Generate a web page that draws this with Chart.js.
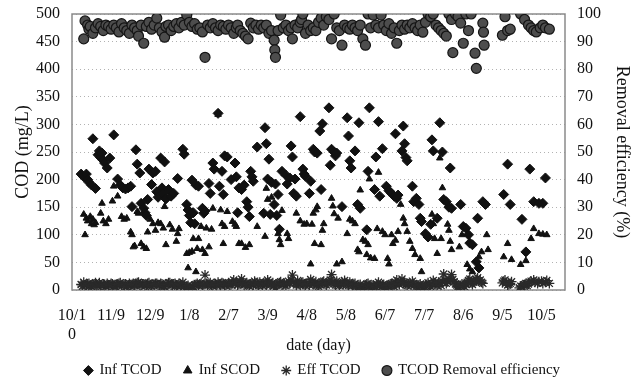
<!DOCTYPE html>
<html>
<head>
<meta charset="utf-8">
<script src="https://cdn.jsdelivr.net/npm/chart.js@4"></script>
<style>
    html, body { margin: 0; padding: 0; background: #ffffff; }
    #codChart { display: block; }
</style>
</head>
<body>
<canvas id="codChart" width="633" height="377"></canvas>
<script>
// Tick labels on the date axis (one every 30 days, starting 10/10)
const dateLabels = [['10/1', '0'], '11/9', '12/9', '1/8', '2/7', '3/9', '4/8', '5/8', '6/7', '7/7', '8/6', '9/5', '10/5'];

const seriesNames = ['Inf TCOD', 'Inf SCOD', 'Eff TCOD', 'TCOD Removal efficiency'];

// [day since 10/10, COD mg/L]
const infTCOD = [
    [7,210],[9,205],[11,210],[12,200],[13,195],[15,190],[16,274],[18,184],[20,245],[21,252],
    [22,240],[23,248],[24,235],[25,230],[27,221],[29,239],[32,281],[35,201],[37,190],[39,185],
    [41,183],[43,185],[45,188],[46,151],[49,254],[50,228],[52,212],[53,157],[55,148],[56,140],
    [57,135],[58,164],[59,219],[61,191],[62,212],[64,215],[65,178],[66,168],[68,239],[69,185],
    [70,175],[71,232],[72,165],[74,182],[76,170],[78,175],[81,202],[85,255],[86,246],[88,155],
    [89,145],[90,135],[91,122],[92,199],[93,140],[94,120],[95,190],[97,188],[100,148],[101,139],
    [102,143],[105,193],[106,175],[108,230],[109,219],[112,320],[113,188],[115,215],[116,173],[117,243],
    [119,241],[122,200],[125,230],[126,205],[127,140],[128,185],[130,182],[132,190],[134,160],[135,150],
    [136,133],[137,215],[138,205],[139,197],[142,259],[147,139],[148,294],[149,265],[150,201],[151,237],
    [152,137],[153,195],[155,155],[156,192],[157,135],[158,173],[159,110],[161,215],[164,208],[165,192],
    [167,203],[168,261],[169,241],[170,175],[171,201],[172,170],[175,314],[177,219],[178,210],[179,206],
    [182,175],[183,197],[185,255],[186,250],[188,248],[190,288],[191,182],[192,301],[197,330],[198,226],
    [199,255],[201,250],[202,243],[203,248],[207,151],[211,312],[212,279],[213,234],[214,221],[217,252],
    [219,155],[220,303],[221,148],[226,109],[227,215],[228,330],[232,182],[233,241],[235,305],[236,170],
    [238,256],[241,188],[243,180],[245,175],[247,170],[248,283],[249,166],[250,172],[253,252],[254,297],
    [255,265],[256,240],[257,234],[261,188],[262,160],[264,166],[266,155],[267,130],[268,124],[271,102],
    [273,96],[275,119],[276,272],[277,252],[280,130],[282,303],[284,250],[285,164],[287,160],[289,150],
    [290,221],[291,148],[298,155],[300,115],[302,112],[304,100],[305,85],[307,82],[310,51],[311,130],
    [312,40],[315,160],[317,155],[331,173],[334,228],[336,155],[345,128],[348,69],[351,219],[354,160],
    [358,157],[361,157],[363,203]
];

const infSCOD = [
    [9,137],[10,100],[11,130],[12,125],[14,133],[15,120],[16,128],[17,118],[18,122],[22,139],
    [23,157],[24,125],[26,120],[28,128],[31,161],[32,188],[35,170],[38,133],[40,128],[42,130],
    [45,105],[46,100],[47,78],[48,80],[50,142],[51,139],[53,84],[55,78],[57,75],[58,105],
    [60,128],[62,120],[64,108],[66,122],[68,120],[70,112],[71,151],[72,82],[75,118],[77,110],
    [80,88],[81,102],[82,111],[88,66],[89,40],[90,68],[92,70],[93,93],[95,33],[96,75],
    [97,93],[99,115],[100,73],[102,66],[103,112],[105,78],[107,110],[108,148],[112,318],[114,145],
    [115,120],[116,84],[117,115],[119,142],[123,124],[125,119],[126,115],[128,84],[130,84],[133,77],
    [136,82],[142,115],[148,97],[149,184],[150,164],[153,168],[158,102],[159,91],[160,82],[161,144],
    [165,102],[166,93],[172,139],[175,125],[178,119],[180,120],[183,47],[184,119],[185,139],[186,84],
    [187,145],[188,151],[191,82],[192,108],[193,120],[199,166],[200,152],[201,138],[203,47],[204,130],
    [207,51],[211,102],[213,128],[215,125],[217,120],[219,73],[220,69],[221,181],[223,91],[225,88],
    [226,64],[227,82],[228,201],[229,58],[232,57],[234,111],[235,213],[238,106],[240,100],[242,57],
    [243,47],[245,100],[246,84],[248,90],[250,106],[252,155],[254,130],[255,120],[257,106],[259,88],
    [261,75],[263,64],[267,57],[268,33],[276,137],[277,120],[278,93],[280,66],[282,239],[283,93],
    [284,185],[288,119],[289,108],[290,88],[291,73],[297,78],[299,100],[303,46],[305,38],[307,33],
    [312,60],[314,69],[318,100],[319,73],[331,60],[334,84],[337,55],[344,46],[348,53],[352,93],
    [354,111],[358,102],[361,101],[364,100]
];

const effTCOD = [
    [7,10],[8,7],[9,14],[10,9],[11,8],[12,11],[13,12],[14,8],[15,6],[16,10],[17,11],[18,13],[19,9],[20,7],
    [21,13],[22,9],[23,7],[24,11],[25,10],[26,6],[27,12],[28,9],[29,8],[30,12],[31,11],[32,7],[33,6],[34,10],
    [35,10],[36,12],[37,13],[38,7],[39,8],[40,10],[41,11],[42,6],[43,9],[44,12],[45,7],[46,10],[47,12],[48,8],
    [49,10],[50,13],[51,14],[52,9],[53,8],[54,11],[55,11],[56,7],[57,9],[58,12],[59,13],[60,8],[61,7],[62,10],
    [63,10],[64,12],[65,12],[66,9],[67,8],[68,12],[69,11],[70,7],[71,6],[72,10],[73,10],[74,13],[75,13],[76,8],
    [77,9],[78,11],[79,12],[80,9],[81,7],[82,12],[83,10],[84,8],[85,14],[86,6],[87,3],[88,7],[89,8],[90,4],
    [91,2],[92,7],[93,6],[94,9],[95,10],[96,12],[97,8],[98,11],[99,12],[100,9],[101,10],[102,27],[103,12],[104,9],
    [105,11],[106,13],[107,9],[108,7],[109,12],[110,11],[111,8],[112,14],[113,10],[114,9],[115,13],[116,12],[117,9],[118,8],
    [119,11],[120,13],[121,9],[122,10],[123,14],[124,18],[125,11],[126,14],[127,9],[128,11],[129,15],[130,20],[131,12],[132,9],
    [133,11],[134,13],[135,10],[136,7],[137,11],[138,12],[139,9],[140,16],[141,13],[142,10],[143,8],[144,14],[145,11],[146,8],
    [147,13],[148,12],[149,9],[150,18],[151,14],[152,9],[153,11],[154,13],[155,8],[156,4],[157,9],[158,11],[159,13],[160,15],
    [161,9],[162,10],[163,12],[164,8],[165,11],[166,16],[167,12],[168,18],[169,27],[170,14],[171,12],[172,9],[173,17],[174,11],
    [175,9],[176,13],[177,14],[178,10],[179,8],[180,12],[181,13],[182,9],[183,19],[184,14],[185,10],[186,12],[187,15],[188,9],
    [189,7],[190,10],[191,12],[192,14],[193,16],[194,11],[195,9],[196,12],[197,14],[198,18],[199,28],[200,15],[201,11],[202,9],
    [203,16],[204,12],[205,8],[206,11],[207,13],[208,10],[209,17],[210,13],[211,10],[212,8],[213,14],[214,11],[215,8],[216,10],
    [217,12],[218,7],[219,5],[220,8],[221,10],[222,6],[223,3],[224,7],[225,8],[226,11],[227,12],[228,6],[229,4],[230,8],
    [231,9],[232,5],[233,6],[234,10],[235,14],[236,8],[237,5],[238,9],[239,10],[240,6],[241,3],[242,7],[243,8],[244,11],
    [245,12],[246,8],[247,6],[248,14],[249,18],[250,12],[251,10],[252,15],[253,20],[254,12],[255,14],[256,10],[257,8],[258,11],
    [259,12],[260,9],[261,16],[262,12],[263,9],[264,7],[265,5],[266,9],[267,11],[268,7],[269,4],[270,6],[271,8],[272,10],
    [273,13],[274,9],[275,6],[276,12],[277,17],[278,13],[279,10],[280,8],[281,14],[282,11],[283,8],[284,16],[285,29],[286,18],
    [287,12],[288,15],[289,20],[290,17],[291,28],[292,19],[293,15],[294,11],[295,9],[296,6],[297,4],[298,8],[299,11],[300,9],
    [301,6],[302,10],[303,14],[304,17],[305,20],[306,13],[307,10],[308,14],[309,16],[310,19],[311,22],[312,16],[313,18],[314,14],
    [315,12],[330,13],[331,16],[332,18],[333,13],[334,9],[335,10],[336,12],[337,15],[343,4],[344,7],[345,6],[346,9],[347,10],
    [348,12],[349,8],[350,11],[351,14],[352,16],[354,18],[355,14],[357,12],[358,15],[360,16],[361,12],[363,14],[364,17],[366,12]
];

// [day since 10/10, removal efficiency %]
const removalEff = [
    [9,91],[10,97.5],[12,96],[13,94.5],[14,95.5],[16,93],[18,95],[20,96.5],[22,95.5],[24,94],
    [26,96],[28,95.5],[30,94.5],[32,96],[34,95],[36,93.5],[38,96.5],[40,95],[42,94],[44,93],
    [46,96],[48,95],[50,94],[51,92],[53,96],[55,89.4],[57,95.5],[59,97],[61,94.5],[63,96],
    [65,98.5],[67,95],[69,93.5],[71,91.6],[72,95.5],[74,96],[76,94],[78,95.5],[80,96.5],[82,95],
    [84,97],[86,96],[88,99.6],[90,97],[92,95.5],[94,96.5],[96,94.5],[98,95],[100,93.5],[102,84.3],
    [104,96],[106,95],[108,96.5],[110,95],[112,94],[114,96],[116,95.5],[118,94.5],[120,96],[122,95],
    [124,93],[126,95],[127,96],[129,94],[131,93],[133,92],[135,91],[137,96.7],[139,95],[141,96],
    [143,94.5],[145,96],[147,95],[149,96],[151,93],[153,94],[155,90.5],[155.5,87],[156,84.3],[158,94],
    [160,99.6],[162,95],[164,96],[166,94],[168,95],[169,91],[171,96],[173,95],[175,97],[176,98],
    [177,100],[179,93],[181,96],[183,94],[185,95],[187,94],[189,97],[191,98.5],[193,96],[195,99],
    [197,98],[199,91],[201,100],[203,95],[205,94],[207,88.7],[209,96],[211,95],[213,94.5],[215,96],
    [217,95],[219,94],[221,96],[223,91],[225,88.7],[227,100],[229,95],[231,99.6],[233,96],[235,95],
    [237,99.6],[239,96],[241,94],[243,96.5],[245,93],[247,95],[249,89.4],[251,94],[253,96],[255,94.5],
    [257,96],[259,95],[261,96.5],[263,95],[265,94],[267,96],[269,93.4],[271,97],[273,100],[275,99],
    [277,100],[279,96],[281,95],[283,94],[285,93],[287,92],[289,100],[291,98],[292,86],[294,100],
    [296,99],[298,96.7],[300,89.4],[302,100],[304,94],[306,100],[309,85.8],[310,80.3],[315,96.7],[315.5,93.4],
    [316,88.7],[330,92.3],[332,99],[334,94],[336,94.5],[344,100],[347,98],[350,96],[352,95],[354,94],
    [356,93.5],[359,95],[361,96],[363,95],[366,94.5]
];

const FONT = 'Liberation Serif, Times New Roman, serif';
const INK = '#111111';

class CodChart {
    constructor() {
        this.createChart();
    }

    toPoints(pairs) {
        return pairs.map(p => ({ x: p[0], y: p[1] }));
    }

    createChart() {
        const ctx = document.getElementById('codChart').getContext('2d');

        // plot frame drawn around the chart area, like the original
        const frame = {
            id: 'frame',
            beforeDatasetsDraw(chart) {
                const a = chart.chartArea;
                const c = chart.ctx;
                c.save();
                c.strokeStyle = '#8a8a8a';
                c.lineWidth = 1.5;
                c.strokeRect(a.left, a.top, a.right - a.left, a.bottom - a.top);
                c.restore();
            }
        };

        // vertical axes: no extra space reserved for half tick labels
        const noPad = (scale) => {
            scale.paddingTop = 0;
            scale.paddingBottom = 0;
        };

        this.chart = new Chart(ctx, {
            type: 'scatter',
            plugins: [frame],
            data: {
                datasets: [{
                    label: seriesNames[0],
                    data: this.toPoints(infTCOD),
                    yAxisID: 'y',
                    pointStyle: 'rectRot',
                    pointRadius: 5,
                    backgroundColor: INK,
                    borderColor: INK,
                    borderWidth: 1
                }, {
                    label: seriesNames[1],
                    data: this.toPoints(infSCOD),
                    yAxisID: 'y',
                    pointStyle: 'triangle',
                    pointRadius: 3.8,
                    backgroundColor: INK,
                    borderColor: INK,
                    borderWidth: 1
                }, {
                    label: seriesNames[2],
                    data: this.toPoints(effTCOD),
                    yAxisID: 'y',
                    pointStyle: 'star',
                    pointRadius: 5,
                    backgroundColor: INK,
                    borderColor: '#2a2a2a',
                    borderWidth: 1.3
                }, {
                    label: seriesNames[3],
                    data: this.toPoints(removalEff),
                    yAxisID: 'y2',
                    pointStyle: 'circle',
                    pointRadius: 5,
                    backgroundColor: '#4d4d4d',
                    borderColor: '#151515',
                    borderWidth: 1.2
                }]
            },
            options: {
                responsive: false,
                animation: false,
                layout: {
                    padding: { left: 12, right: 0, top: 14, bottom: -11 }
                },
                plugins: {
                    tooltip: { enabled: false },
                    legend: {
                        position: 'bottom',
                        labels: {
                            usePointStyle: true,
                            boxWidth: 7,
                            boxHeight: 7,
                            padding: 4,
                            color: INK,
                            font: { family: FONT, size: 15 },
                            // wider gaps between entries, as in the original
                            generateLabels: (chart) => {
                                const base = Chart.defaults.plugins.legend.labels.generateLabels(chart);
                                base.forEach((item, i) => {
                                    if (i < base.length - 1) item.text = item.text + '     ';
                                });
                                return base;
                            }
                        }
                    }
                },
                scales: {
                    x: {
                        type: 'linear',
                        min: 0,
                        max: 378,
                        afterBuildTicks: (scale) => {
                            scale.ticks = dateLabels.map((l, i) => ({ value: i * 30 }));
                        },
                        afterFit: (scale) => {
                            scale.height = 69;
                        },
                        grid: { display: false, drawTicks: false },
                        border: { display: false },
                        ticks: {
                            color: INK,
                            maxRotation: 0,
                            autoSkip: false,
                            padding: 16,
                            font: { family: FONT, size: 16 },
                            callback: (value, index) => dateLabels[index]
                        },
                        title: {
                            display: true,
                            text: 'date (day)',
                            color: INK,
                            padding: { top: 0, bottom: 4 },
                            font: { family: FONT, size: 16 }
                        }
                    },
                    y: {
                        position: 'left',
                        min: 0,
                        max: 500,
                        afterFit: (scale) => {
                            scale.width = 60;
                            noPad(scale);
                        },
                        border: { display: false, dash: [1, 3] },
                        grid: {
                            color: 'rgba(0, 0, 0, 0.3)',
                            drawTicks: false,
                            lineWidth: 1
                        },
                        ticks: {
                            stepSize: 50,
                            color: INK,
                            padding: 12,
                            font: { family: FONT, size: 16 }
                        },
                        title: {
                            display: true,
                            text: 'COD (mg/L)',
                            color: INK,
                            padding: { top: 0, bottom: 0 },
                            font: { family: FONT, size: 18 }
                        }
                    },
                    y2: {
                        position: 'right',
                        min: 0,
                        max: 100,
                        afterFit: (scale) => {
                            scale.width = 68;
                            noPad(scale);
                        },
                        border: { display: false },
                        grid: { display: false, drawTicks: false },
                        ticks: {
                            stepSize: 10,
                            color: INK,
                            padding: 12,
                            font: { family: FONT, size: 16 }
                        },
                        title: {
                            display: true,
                            text: 'Removal efficiency (%)',
                            color: INK,
                            padding: { top: 0, bottom: 0 },
                            font: { family: FONT, size: 18 }
                        }
                    }
                }
            }
        });
    }
}

new CodChart();
</script>
</body>
</html>
